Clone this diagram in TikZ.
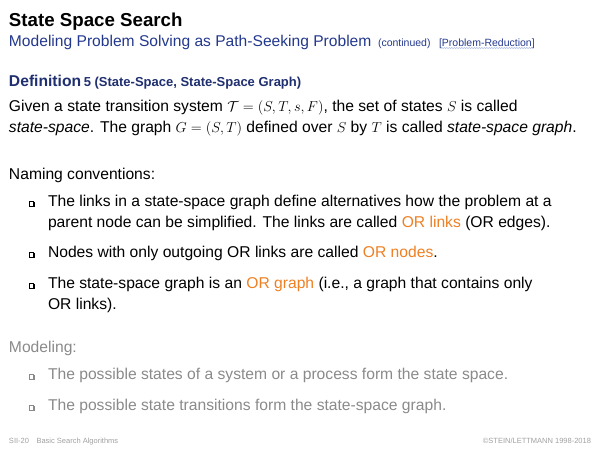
\documentclass[tikz,border=0pt]{standalone}
\usepackage{fontspec}
\setmainfont{Liberation Sans}
\usetikzlibrary{decorations.pathmorphing}
\definecolor{subblue}{HTML}{23388C}
\definecolor{defblue}{HTML}{1F2F6F}
\definecolor{orng}{HTML}{EE7F22}
\definecolor{greytxt}{HTML}{8A8A8A}
\definecolor{foot}{HTML}{A0A0A0}
\definecolor{wavy}{HTML}{A8B8E0}
\newcommand{\orl}[1]{\textcolor{orng}{#1}}
\tikzset{
  txt/.style={anchor=base west, inner sep=0pt, outer sep=0pt, font=\fontsize{15.65}{21}\selectfont},
  gtxt/.style={txt, text=greytxt},
  foottxt/.style={inner sep=0pt, outer sep=0pt, text=foot, font=\fontsize{7.5}{9}\selectfont},
  bul/.pic={
    \fill[black] (0.9pt,-0.9pt) rectangle (5.6pt,3.8pt);
    \filldraw[fill=white, draw=black, line width=0.55pt] (0,0) rectangle (4.7pt,4.7pt);
  },
  gbul/.pic={
    \fill[greytxt] (0.9pt,-0.9pt) rectangle (5.6pt,3.8pt);
    \filldraw[fill=white, draw=greytxt, line width=0.55pt] (0,0) rectangle (4.7pt,4.7pt);
  }
}
\begin{document}
\begin{tikzpicture}[x=1pt,y=1pt]
\useasboundingbox (0,0) rectangle (600,-450);
% title
\node[txt, font=\bfseries\fontsize{18.7}{22}\selectfont] (title) at (9,-26) {State Space Search};
\node[txt, text=subblue, font=\fontsize{15.6}{21}\selectfont] (sub) at (9,-46) {Modeling Problem Solving as Path-Seeking Problem};
\node[txt, text=subblue, font=\fontsize{10.5}{12}\selectfont] (cont) at (378,-46) {(continued)};
\node[txt, text=subblue, font=\fontsize{10.5}{12}\selectfont] (pr) at (439,-46) {[Problem-Reduction]};
\draw[wavy, line width=0.5pt, decorate, decoration={snake, amplitude=0.6pt, segment length=2.5pt}]
  ([yshift=-2pt,xshift=2pt]pr.base west) -- ([yshift=-2pt,xshift=-2pt]pr.base east);
% definition
\node[txt, text=defblue] (def) at (9,-86) {\textbf{Definition}\,\fontsize{13}{15}\selectfont\textbf{5 (State-Space, State-Space Graph)}};
\node[txt] (d1) at (9,-111) {Given a state transition system $\mathcal{T}=(S,T,s,F)$, the set of states $S$ is called};
\node[txt] (d2) at (9,-132) {\textit{state-space}. The graph $G=(S,T)$ defined over $S$ by $T$ is called \textit{state-space graph}.};
% naming
\node[txt] (nam) at (9,-179) {Naming conventions:};
\pic at (29,-206) {bul};
\node[txt] (b1a) at (48,-206) {The links in a state-space graph define alternatives how the problem at a};
\node[txt] (b1b) at (48,-227.5) {parent node can be simplified. The links are called \orl{OR links} (OR edges).};
\pic at (29,-257) {bul};
\node[txt] (b2) at (48,-257) {Nodes with only outgoing OR links are called \orl{OR nodes}.};
\pic at (29,-288) {bul};
\node[txt] (b3a) at (48,-288) {The state-space graph is an \orl{OR graph} (i.e., a graph that contains only};
\node[txt] (b3b) at (48,-309) {OR links).};
% modeling
\node[gtxt] (mod) at (9,-352) {Modeling:};
\pic at (29,-379) {gbul};
\node[gtxt] (m1) at (48,-379) {The possible states of a system or a process form the state space.};
\pic at (29,-410) {gbul};
\node[gtxt] (m2) at (48,-410) {The possible state transitions form the state-space graph.};
% footer
\node[foottxt, anchor=base west] (fl) at (9,-443) {SII-20\quad Basic Search Algorithms};
\node[foottxt, anchor=base east] (fr) at (591,-443) {\textcopyright STEIN/LETTMANN 1998-2018};
\end{tikzpicture}
\end{document}
